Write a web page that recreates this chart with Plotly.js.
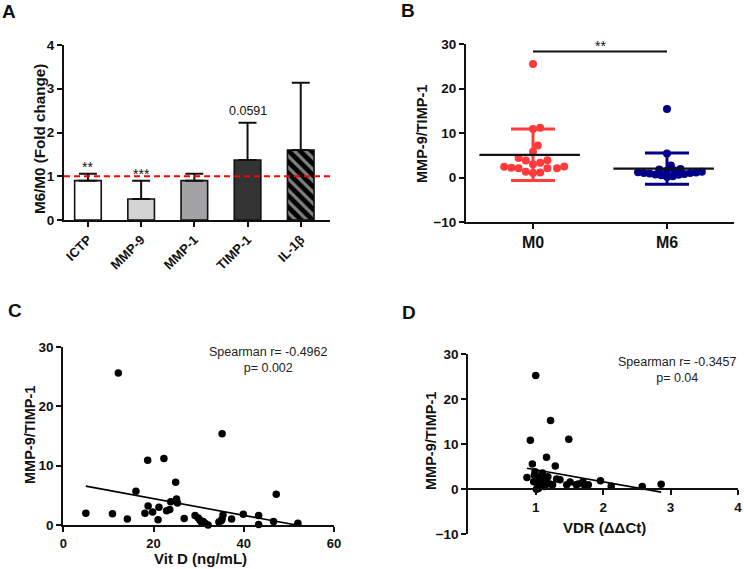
<!DOCTYPE html>
<html>
<head>
<meta charset="utf-8">
<script src="https://cdn.plot.ly/plotly-3.0.1.min.js"></script>
<style>
  html, body { margin: 0; padding: 0; background: #fff; }
  #chart { width: 744px; height: 569px; }
</style>
</head>
<body>
<div id="chart"></div>
<script>
// panel A: fold change M6/M0
const foldCategories = ['ICTP', 'MMP-9', 'MMP-1', 'TIMP-1', 'IL-1β'];
const foldMeans = [0.90, 0.48, 0.90, 1.37, 1.60];
const foldErrors = [0.16, 0.42, 0.16, 0.85, 1.54];
const foldLabels = ['**', '***', '', '0.0591', ''];

// panel B: MMP-9/TIMP-1 at M0 and M6
const groupNames = ['M0', 'M6'];
const ratioM0 = [25.5, 11.2, 10.9, 7.2, 5.8, 4.4, 3.9, 3.8, 3.3, 3.0, 2.5, 2.2, 2.1, 2.1, 2.1, 2.4, 1.3, 1.1, 1.0];
const ratioM6 = [15.4, 5.4, 2.7, 1.9, 1.8, 1.6, 1.5, 1.3, 1.2, 1.1, 1.0, 1.0, 0.9, 0.8, 0.7, 0.6, 0.5, 0.3, 0.1];
const groupMeans = [5.1, 2.0];
const groupSds = [5.8, 3.5];
const sigLabel = '**';

// panel C: MMP-9/TIMP-1 vs Vit D
const vitD = [12.2, 35.2, 18.7, 22.3, 24.9, 47.2, 16.1, 5.0, 10.9, 14.2, 18.1, 18.8, 19.8, 21.2, 21.0, 22.9, 23.6, 23.8, 25.1,
  25.3, 26.8, 29.2, 29.9, 30.3, 30.6, 31.4, 32.1, 34.5, 35.2, 35.4, 37.3, 39.9, 43.3, 43.3, 46.6, 52.0, 31.0, 35.0];
const ratioVitD = [25.6, 15.4, 10.9, 11.2, 7.2, 5.2, 5.7, 2.0, 1.9, 1.0, 2.0, 3.2, 2.2, 3.0, 0.9, 2.4, 2.6, 3.9, 4.4,
  3.7, 1.1, 1.6, 1.2, 0.8, 0.5, 0.3, 0.0, 0.5, 1.0, 1.7, 1.0, 1.8, 1.6, 0.1, 0.6, 0.3, 0.6, 0.7];
const fitVitD = { intercept: 7.25, slope: -0.1405 };
const statsVitD = 'Spearman r= -0.4962<br>p= 0.002';

// panel D: MMP-9/TIMP-1 vs VDR
const vdr = [1.00, 1.22, 0.92, 1.49, 1.16, 1.29, 0.95, 0.87, 0.99, 1.02, 1.06, 1.10, 1.11, 1.03, 1.01, 1.08, 1.21, 1.31, 1.36,
  1.46, 1.51, 1.63, 1.70, 1.73, 1.78, 1.96, 2.12, 2.58, 2.86, 0.97, 1.05, 1.13, 1.18, 1.04, 1.15, 1.25, 0.98, 1.60];
const ratioVdr = [25.3, 15.3, 10.9, 11.1, 7.1, 5.2, 5.6, 2.6, 3.9, 2.8, 1.7, 3.6, 2.1, 0.6, 0.0, 1.2, 1.2, 2.3, 2.1,
  1.0, 1.6, 1.2, 1.7, 0.7, 1.0, 1.9, 0.7, 0.6, 1.1, 1.7, 2.4, 0.6, 2.8, 0.2, 1.9, 1.0, 3.1, 1.0];
const fitVdr = { intercept: 7.0, slope: -2.67 };
const statsVdr = 'Spearman r= -0.3457<br>p= 0.04';

const FONT = 'Arial, "Liberation Sans", sans-serif';
const INK = '#111111';
const RED = '#ff3b3b';
const NAVY = '#00008b';

// simple beeswarm: spread points sideways (in pixels) so dots don't overlap too much
function swarm (values, pxPerX, pxPerY, diameter) {
  const order = values.map((v, i) => i).sort((a, b) => values[a] - values[b]);
  const placed = [];
  const offsets = new Array(values.length);
  order.forEach((i) => {
    const py = values[i] * pxPerY;
    for (let k = 0; k < 300; k++) {
      const px = k === 0 ? 0 : (k % 2 ? 1 : -1) * Math.ceil(k / 2) * diameter / 3;
      if (placed.every((p) => Math.hypot(p.x - px, p.y - py) >= diameter)) {
        placed.push({ x: px, y: py });
        offsets[i] = px / pxPerX;
        break;
      }
    }
  });
  return offsets;
}

const tickFont = { family: FONT, size: 13.5, color: INK, weight: 'bold' };
const axisBase = {
  showline: true, linewidth: 2, linecolor: INK,
  ticks: 'outside', ticklen: 5, tickwidth: 2, tickcolor: INK,
  showgrid: false, zeroline: false,
  tickfont: tickFont,
  fixedrange: true
};

function axis (extra) {
  return Object.assign({}, axisBase, extra);
}

// domains in paper fractions
const W = 744, H = 569;
const dx = (a, b) => [a / W, b / W];
const dy = (top, bottom) => [1 - bottom / H, 1 - top / H];

const domA = { x: dx(64, 330), y: dy(45, 220) };
const domB = { x: dx(466, 734), y: dy(44, 222) };
const domC = { x: dx(63.3, 334), y: dy(347, 525) };
const domD = { x: dx(468.3, 738), y: dy(354.3, 534.3) };

// swarm offsets for panel B (268 px per 2 categories, 178 px per 40 units)
const pxPerCat = 268 / 2;
const pxPerUnit = 178 / 40;
const offM0 = swarm(ratioM0, pxPerCat, pxPerUnit, 7.2);
const offM6 = swarm(ratioM6, pxPerCat, pxPerUnit, 5.8);

const traces = [];

// A: bars
traces.push({
  type: 'bar', x: foldCategories, y: foldMeans, xaxis: 'x', yaxis: 'y',
  width: 0.5,
  marker: {
    color: ['#ffffff', '#d4d4d4', '#a3a3a6', '#333333', '#000000'],
    line: { color: INK, width: 1.6 },
    pattern: { shape: ['', '', '', '', '\\'], fgcolor: '#ffffff', size: 8, solidity: 0.4, fillmode: 'overlay' }
  },
  error_y: {
    type: 'data', symmetric: false, array: foldErrors, arrayminus: foldErrors.map(() => 0),
    color: INK, thickness: 2, width: 9
  },
  hoverinfo: 'x+y'
});

// B: dot plots with mean and SD
[[ratioM0, offM0, RED, 0], [ratioM6, offM6, NAVY, 1]].forEach(([vals, offs, color, gi]) => {
  traces.push({
    type: 'scatter', mode: 'markers', xaxis: 'x2', yaxis: 'y2',
    x: offs.map((o) => gi + o), y: vals,
    marker: { color, size: 8 }, cliponaxis: false
  });
  traces.push({
    type: 'scatter', mode: 'markers', xaxis: 'x2', yaxis: 'y2',
    x: [gi], y: [groupMeans[gi]],
    marker: { color: 'rgba(0,0,0,0)', size: 1 },
    error_y: { type: 'data', array: [groupSds[gi]], color, thickness: 3, width: 22 },
    hoverinfo: 'skip'
  });
  traces.push({
    type: 'scatter', mode: 'lines', xaxis: 'x2', yaxis: 'y2',
    x: [gi - 0.4, gi + 0.35], y: [groupMeans[gi], groupMeans[gi]],
    line: { color: INK, width: 2.2 }, hoverinfo: 'skip'
  });
});

// C and D: scatter with regression line
function scatterPanel (xs, ys, fit, xa, ya) {
  const lo = Math.min(...xs), hi = Math.max(...xs);
  traces.push({
    type: 'scatter', mode: 'markers', xaxis: xa, yaxis: ya,
    x: xs, y: ys, marker: { color: '#000', size: 7.5 }, cliponaxis: false
  });
  traces.push({
    type: 'scatter', mode: 'lines', xaxis: xa, yaxis: ya,
    x: [lo, hi], y: [fit.intercept + fit.slope * lo, fit.intercept + fit.slope * hi],
    line: { color: '#000', width: 1.6 }, cliponaxis: false, hoverinfo: 'skip'
  });
}
scatterPanel(vitD, ratioVitD, fitVitD, 'x3', 'y3');
scatterPanel(vdr, ratioVdr, fitVdr, 'x4', 'y4');

const letterFont = { family: FONT, size: 19, color: INK, weight: 'bold' };
const annotations = [
  { text: 'A', x: 9, y: 12 },
  { text: 'B', x: 408, y: 11 },
  { text: 'C', x: 15, y: 310 },
  { text: 'D', x: 409, y: 312 }
].map((a) => ({ text: a.text, x: a.x / W, y: 1 - a.y / H, xref: 'paper', yref: 'paper',
  showarrow: false, font: letterFont, xanchor: 'center', yanchor: 'middle' }));

// axis titles placed as paper annotations so they sit where the original has them
const titleFont = { family: FONT, size: 14.5, color: INK, weight: 'bold' };
const xTitleFont = { family: FONT, size: 15, color: INK, weight: 'bold' };
[
  { text: 'M6/M0 (Fold change)', x: 39, y: 139, angle: -90, font: Object.assign({}, titleFont, { size: 15.2 }) },
  { text: 'MMP-9/TIMP-1', x: 422, y: 134, angle: -90, font: titleFont },
  { text: 'MMP-9/TIMP-1', x: 30, y: 435, angle: -90, font: titleFont },
  { text: 'MMP-9/TIMP-1', x: 430.5, y: 441.5, angle: -90, font: titleFont },
  { text: 'Vit D (ng/mL)', x: 200, y: 558.5, angle: 0, font: xTitleFont },
  { text: 'VDR (ΔΔCt)', x: 604, y: 527.5, angle: 0, font: xTitleFont }
].forEach((t) => {
  annotations.push({ text: t.text, x: t.x / W, y: 1 - t.y / H, xref: 'paper', yref: 'paper',
    textangle: t.angle, showarrow: false, font: t.font, xanchor: 'center', yanchor: 'middle',
    borderpad: 0 });
});

foldLabels.forEach((lab, i) => {
  if (!lab) return;
  const isStar = lab.indexOf('*') === 0;
  annotations.push({
    xref: 'x', yref: 'y', x: foldCategories[i], y: foldMeans[i] + foldErrors[i],
    text: lab, showarrow: false, yanchor: 'bottom', yshift: isStar ? -3 : 3,
    font: { family: FONT, size: isStar ? 14 : 12.5, color: INK }
  });
});

annotations.push({
  xref: 'x2', yref: 'y2', x: 0.5, y: 28.3, text: sigLabel, showarrow: false,
  yanchor: 'bottom', yshift: -4, font: { family: FONT, size: 14, color: INK }
});

const statsFont = { family: FONT, size: 12.5, color: '#222' };
annotations.push({ xref: 'x3', yref: 'y3', x: 45.5, y: 27.8, text: statsVitD, showarrow: false, font: statsFont, align: 'center' });
annotations.push({ xref: 'x4', yref: 'y4', x: 3.1, y: 26.6, text: statsVdr, showarrow: false, font: statsFont, align: 'center' });

const layout = {
  width: W, height: H,
  margin: { l: 0, r: 0, t: 0, b: 0 },
  paper_bgcolor: '#fff', plot_bgcolor: 'rgba(0,0,0,0)',
  showlegend: false,
  font: { family: FONT, color: INK },

  xaxis: axis({ domain: domA.x, anchor: 'y', type: 'category', range: [-0.45, 4.55], tickangle: -45,
    tickfont: Object.assign({}, tickFont, { size: 13 }) }),
  yaxis: axis({ domain: domA.y, anchor: 'x', range: [0, 4], dtick: 1 }),

  xaxis2: axis({ domain: domB.x, anchor: 'y2', range: [-0.5, 1.5], tickvals: [0, 1], ticktext: groupNames,
    tickfont: Object.assign({}, tickFont, { size: 16 }) }),
  yaxis2: axis({ domain: domB.y, anchor: 'x2', range: [-10, 30], dtick: 10 }),

  xaxis3: axis({ domain: domC.x, anchor: 'y3', range: [0, 60], dtick: 20,
    tickfont: Object.assign({}, tickFont, { size: 13 }) }),
  yaxis3: axis({ domain: domC.y, anchor: 'x3', range: [0, 30], dtick: 10 }),

  xaxis4: axis({ domain: domD.x, anchor: 'free', position: domD.y[0] + 0.25 * (domD.y[1] - domD.y[0]),
    range: [0, 4], tickvals: [1, 2, 3, 4] }),
  yaxis4: axis({ domain: domD.y, anchor: 'x4', range: [-10, 30], dtick: 10 }),

  shapes: [
    { type: 'line', xref: 'x domain', yref: 'y', x0: 0, x1: 1, y0: 1, y1: 1,
      line: { color: '#ff0000', width: 2, dash: '6px,4px' } },
    { type: 'line', xref: 'x2', yref: 'y2', x0: 0, x1: 1, y0: 28.3, y1: 28.3,
      line: { color: INK, width: 2 } }
  ],
  annotations
};

Plotly.newPlot('chart', traces, layout, { displayModeBar: false, staticPlot: true });
</script>
</body>
</html>
